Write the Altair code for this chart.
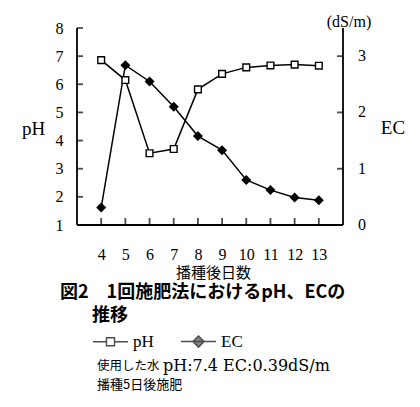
import altair as alt
import pandas as pd

# ---- data ----
days = [4, 5, 6, 7, 8, 9, 10, 11, 12, 13]
ph_values = [6.86, 6.15, 3.55, 3.70, 5.82, 6.37, 6.60, 6.67, 6.70, 6.66]
ec_values = [0.31, 2.84, 2.55, 2.10, 1.58, 1.33, 0.80, 0.62, 0.49, 0.44]
ph_ticks = [1, 2, 3, 4, 5, 6, 7, 8]
ec_ticks = [0, 1, 2, 3]
x_domain = [3, 14]
ph_domain = [1, 8]
ec_domain = [0, 3.5]
series = ["pH", "EC"]

x_title = "播種後日数"
ph_title = "pH"
ec_title = "EC"
ec_unit = "(dS/m)"
caption_1 = "図2　1回施肥法におけるpH、ECの"
caption_2 = "推移"
note_1a = "使用した水"
note_1b = "pH:7.4 EC:0.39dS/m"
note_2 = "播種5日後施肥"

df = pd.DataFrame({"day": days, "pH": ph_values, "EC": ec_values})
long = df.melt("day", var_name="series", value_name="value")

W, H = 266, 197
SERIF = "Liberation Serif"
CJK = "Noto Sans CJK JP"
AXW = 1.8  # axis line width

# the EC axis (right) shares the plot height: map EC onto the pH scale linearly
k = (ph_domain[1] - ph_domain[0]) / (ec_domain[1] - ec_domain[0])
def ec_to_y(field):
    return f"{ph_domain[0]} + (datum.{field} - {ec_domain[0]}) * {k}"

x_scale = alt.Scale(domain=x_domain, nice=False, zero=False)
ph_scale = alt.Scale(domain=ph_domain, nice=False, zero=False)

common = dict(grid=False, domain=False, ticks=True, tickOpacity=0,
              labelFont=SERIF, labelFontSize=16, labelColor="black", labelOverlap=False,
              titleColor="black", titleFontWeight="normal")
x_axis = alt.Axis(values=days, title=x_title, tickSize=alt.ExprRef(expr="-7"), labelPadding=28,
                  titleFont=CJK, titleFontSize=15,
                  titleX=136, titleY=47, titleAlign="center", titleBaseline="middle", **common)
ph_axis = alt.Axis(values=ph_ticks, title=ph_title, orient="left", tickSize=alt.ExprRef(expr="-6"),
                   labelPadding=20, titleFont=SERIF, titleFontSize=19,
                   titleAngle=0, titleX=-44, titleY=100, titleAlign="center", titleBaseline="middle", **common)

X = lambda f: alt.X(f, type="quantitative", scale=x_scale, axis=x_axis)
Y = lambda f: alt.Y(f, type="quantitative", scale=ph_scale, axis=ph_axis)

ph_path = "M-1,0H-0.23M0.23,0H1M-0.23,-0.23H0.23V0.23H-0.23Z"
ec_path = "M-1,0H1M0,-0.32L0.32,0L0,0.32L-0.32,0Z"
leg = alt.Legend(title=None, orient="none", legendX=15, legendY=295, direction="horizontal",
                 symbolSize=1225, symbolStrokeWidth=1.4,
                 labelFont=SERIF, labelFontSize=17, labelColor="black", labelOffset=4,
                 columnPadding=24, padding=0)

# ---- frame: left, bottom and right axis lines with inward ticks ----
x_line = alt.Chart(pd.DataFrame({"day": x_domain})).transform_calculate(
    base=str(ph_domain[0])).mark_line(color="black", strokeWidth=AXW).encode(x=X("day"), y=Y("base"))
left_line = alt.Chart(pd.DataFrame({"v": ph_domain})).transform_calculate(
    edge=str(x_domain[0])).mark_line(color="black", strokeWidth=AXW).encode(x=X("edge"), y=Y("v"))
right_line = alt.Chart(pd.DataFrame({"e": ec_domain})).transform_calculate(
    edge=str(x_domain[1]), ey=ec_to_y("e")).mark_line(color="black", strokeWidth=AXW).encode(
    x=X("edge"), y=Y("ey"))
x_tick_marks = alt.Chart(pd.DataFrame({"day": days})).transform_calculate(
    base=str(ph_domain[0])).mark_tick(
    orient="vertical", color="black", thickness=AXW, size=7, yOffset=-3.5).encode(x=X("day"), y=Y("base"))
left_tick_marks = alt.Chart(pd.DataFrame({"v": ph_ticks})).transform_calculate(
    edge=str(x_domain[0])).mark_tick(
    orient="horizontal", color="black", thickness=AXW, size=6, xOffset=3).encode(y=Y("v"), x=X("edge"))
right_tick_marks = alt.Chart(pd.DataFrame({"e": ec_ticks})).transform_calculate(
    edge=str(x_domain[1]), ey=ec_to_y("e")).mark_tick(
    orient="horizontal", color="black", thickness=AXW, size=6, xOffset=-3).encode(y=Y("ey"), x=X("edge"))
right_labels = alt.Chart(pd.DataFrame({"e": ec_ticks})).transform_calculate(
    edge=str(x_domain[1]), ey=ec_to_y("e")).mark_text(
    align="left", baseline="middle", dx=15, font=SERIF, fontSize=16, color="black").encode(
    y=Y("ey"), x=X("edge"), text="e:Q")

# ---- data ----
ph_line = alt.Chart(df).mark_line(color="black", strokeWidth=1.5).encode(x=X("day"), y=Y("pH"))
ph_pts = alt.Chart(df).mark_point(shape="square", filled=True, fill="white", stroke="black",
                                  strokeWidth=1.4, size=45, opacity=1).encode(x=X("day"), y=Y("pH"))
ec_line = alt.Chart(df).transform_calculate(ey=ec_to_y("EC")).mark_line(
    color="black", strokeWidth=1.5).encode(x=X("day"), y=Y("ey"))
ec_pts = alt.Chart(df).transform_calculate(ey=ec_to_y("EC")).mark_point(
    shape="diamond", filled=True, color="black", size=100, opacity=1).encode(x=X("day"), y=Y("ey"))
# legend only: no rows are drawn, the legend comes from the fixed scale domains
legend_layer = alt.Chart(long).transform_filter("false").mark_point(
    filled=True, stroke="black", strokeWidth=1.4).encode(
    x=X("day"), y=Y("value"),
    shape=alt.Shape("series:N", scale=alt.Scale(domain=series, range=[ph_path, ec_path]), legend=leg),
    fill=alt.Fill("series:N", scale=alt.Scale(domain=series, range=["white", "black"]), legend=leg))


def label(text, x, y, font, size, weight="normal", align="left"):
    return alt.Chart(alt.Data(values=[{"t": text}])).mark_text(
        align=align, baseline="middle", font=font, fontSize=size, fontWeight=weight, color="black"
    ).encode(text="t:N", x=alt.value(x), y=alt.value(y))


chart = alt.layer(
    x_line, left_line, right_line, x_tick_marks, left_tick_marks, right_tick_marks, right_labels,
    ph_line, ec_line, ph_pts, ec_pts, legend_layer,
    label(ec_title, W + 50, 100, SERIF, 19, align="center"),
    label(ec_unit, W + 6, -6, SERIF, 16, align="center"),
    label(caption_1, -17, 265, CJK, 18, "bold"),
    label(caption_2, 15, 288, CJK, 18, "bold"),
    label(note_1a, 20, 338, CJK, 12.5),
    label(note_1b, 86, 338, "DejaVu Serif", 16),
    label(note_2, 20, 357, CJK, 13),
).properties(
    width=W, height=H,
    padding={"left": 13, "top": 6, "right": 5, "bottom": 5},
).configure_view(strokeWidth=0)

chart.save("out.html", embed_options={"renderer": "svg", "actions": False})
